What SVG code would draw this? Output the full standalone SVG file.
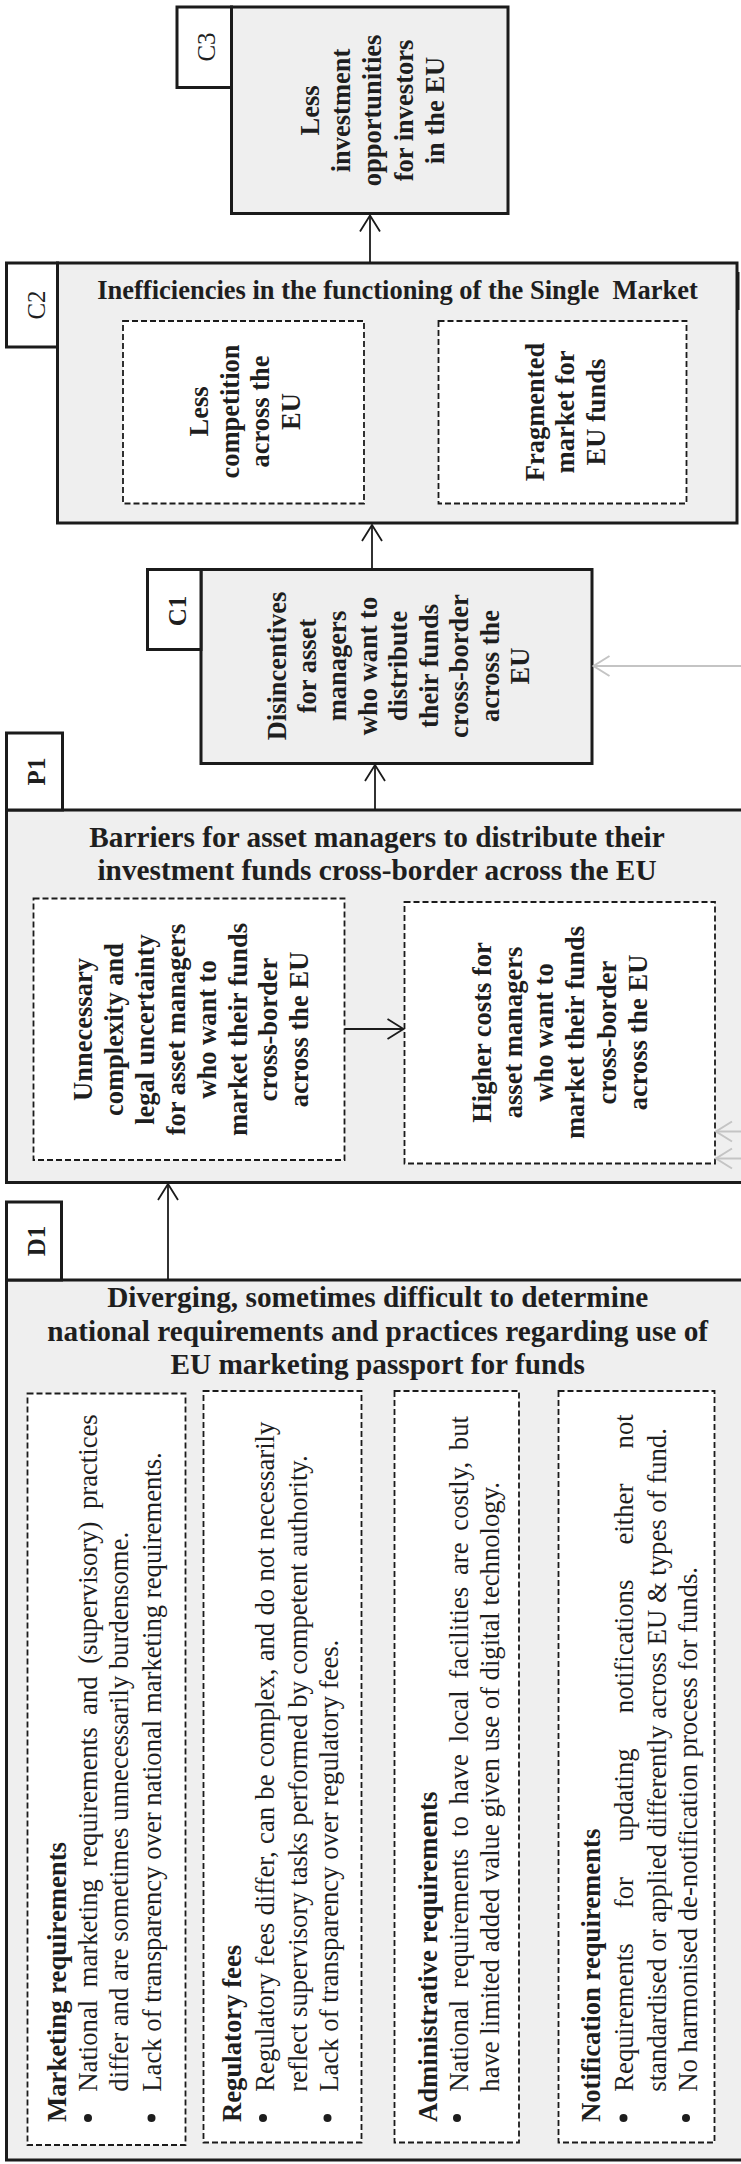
<svg xmlns="http://www.w3.org/2000/svg" width="741" height="2164" viewBox="0 0 741 2164">
<defs>
<marker id="ah" markerUnits="userSpaceOnUse" markerWidth="20" markerHeight="24" viewBox="-1 -12 19 24" refX="16" refY="0" orient="auto">
<path d="M0,-10 L16,0 L0,10" fill="none" stroke="#1b1b1b" stroke-width="1.8"/>
</marker>
<marker id="ahg" markerUnits="userSpaceOnUse" markerWidth="20" markerHeight="24" viewBox="-1 -12 19 24" refX="16" refY="0" orient="auto">
<path d="M0,-10 L16,0 L0,10" fill="none" stroke="#c4c4c4" stroke-width="2"/>
</marker>
</defs>
<style>
.main{fill:#efefef;stroke:#1b1b1b;stroke-width:3}
.lbl{fill:#fff;stroke:#1b1b1b;stroke-width:3}
.dash{fill:#fff;stroke:#1b1b1b;stroke-width:1.8;stroke-dasharray:6 3}
.b{font-family:"Liberation Serif","Times New Roman",serif;font-weight:bold;fill:#1e1e1e}
.n{font-family:"Liberation Serif","Times New Roman",serif;fill:#1e1e1e}
.f26{font-size:26.5px}
.f29{font-size:29.3px}
.bd{font-size:26.7px}
.lab{font-size:25px}
.conn{stroke:#1b1b1b;stroke-width:1.8;fill:none}
.gray{stroke:#c4c4c4;stroke-width:2;fill:none}
.dot{fill:#1e1e1e}
</style>

<g id="C3">
<rect class="main" x="231.5" y="7" width="276.5" height="206.5"/>
<rect class="lbl" x="177" y="7" width="54.5" height="80.5"/>
<text class="n lab" text-anchor="middle" transform="translate(215,47) rotate(-90)">C3</text>
<text class="b f26" text-anchor="middle" transform="translate(319,110.5) rotate(-90)"><tspan x="0" y="0">Less</tspan><tspan x="0" dy="31.2">investment</tspan><tspan x="0" dy="31.2">opportunities</tspan><tspan x="0" dy="31.2">for investors</tspan><tspan x="0" dy="31.2">in the EU</tspan></text>
</g>

<g id="C2">
<rect class="main" x="57.5" y="263" width="679.5" height="260"/>
<path d="M738,272 L738,310" stroke="#1b1b1b" stroke-width="3"/>
<rect class="lbl" x="6.5" y="263" width="51" height="84"/>
<text class="n lab" text-anchor="middle" transform="translate(45,305) rotate(-90)">C2</text>
<text class="b f26" x="397.5" y="298.5" text-anchor="middle" xml:space="preserve">Inefficiencies in the functioning of the Single  Market</text>
<rect class="dash" x="123" y="321" width="241" height="182.5"/>
<text class="b f26" text-anchor="middle" transform="translate(208,411.5) rotate(-90)"><tspan x="0" y="0">Less</tspan><tspan x="0" dy="30.7">competition</tspan><tspan x="0" dy="30.7">across the</tspan><tspan x="0" dy="30.7">EU</tspan></text>
<rect class="dash" x="438.5" y="321" width="248" height="182.5"/>
<text class="b f26" text-anchor="middle" transform="translate(543.5,412) rotate(-90)"><tspan x="0" y="0">Fragmented</tspan><tspan x="0" dy="30.7">market for</tspan><tspan x="0" dy="30.7">EU funds</tspan></text>
</g>

<g id="C1">
<rect class="main" x="201" y="569.5" width="391" height="194"/>
<rect class="lbl" x="147.5" y="569.5" width="53.5" height="80"/>
<text class="b lab" text-anchor="middle" transform="translate(186,611) rotate(-90)">C1</text>
<text class="b f26" text-anchor="middle" transform="translate(285.5,666) rotate(-90)"><tspan x="0" y="0">Disincentives</tspan><tspan x="0" dy="30.45">for asset</tspan><tspan x="0" dy="30.45">managers</tspan><tspan x="0" dy="30.45">who want to</tspan><tspan x="0" dy="30.45">distribute</tspan><tspan x="0" dy="30.45">their funds</tspan><tspan x="0" dy="30.45">cross-border</tspan><tspan x="0" dy="30.45">across the</tspan><tspan x="0" dy="30.45">EU</tspan></text>
</g>

<g id="P1">
<rect class="main" x="6.5" y="810" width="745" height="372.5"/>
<rect class="lbl" x="6.5" y="733" width="56" height="77"/>
<text class="b lab" text-anchor="middle" transform="translate(45,771.5) rotate(-90)">P1</text>
<text class="b f29" text-anchor="middle"><tspan x="377" y="847">Barriers for asset managers to distribute their</tspan><tspan x="377" y="880">investment funds cross-border across the EU</tspan></text>
<rect class="dash" x="33.5" y="898.5" width="311" height="261.5"/>
<text class="b f26" text-anchor="middle" transform="translate(92,1029.5) rotate(-90)"><tspan x="0" y="0">Unnecessary</tspan><tspan x="0" dy="30.9">complexity and</tspan><tspan x="0" dy="30.9">legal uncertainty</tspan><tspan x="0" dy="30.9">for asset managers</tspan><tspan x="0" dy="30.9">who want to</tspan><tspan x="0" dy="30.9">market their funds</tspan><tspan x="0" dy="30.9">cross-border</tspan><tspan x="0" dy="30.9">across the EU</tspan></text>
<rect class="dash" x="404.5" y="902" width="310.5" height="261.5"/>
<text class="b f26" text-anchor="middle" transform="translate(490.5,1032.5) rotate(-90)"><tspan x="0" y="0">Higher costs for</tspan><tspan x="0" dy="31.25">asset managers</tspan><tspan x="0" dy="31.25">who want to</tspan><tspan x="0" dy="31.25">market their funds</tspan><tspan x="0" dy="31.25">cross-border</tspan><tspan x="0" dy="31.25">across the EU</tspan></text>
</g>

<g id="D1">
<rect class="main" x="6.5" y="1280" width="745" height="880"/>
<rect class="lbl" x="6.5" y="1202" width="55" height="78"/>
<text class="b lab" text-anchor="middle" transform="translate(45,1241) rotate(-90)">D1</text>
<text class="b f29" text-anchor="middle"><tspan x="377.7" y="1307">Diverging, sometimes difficult to determine</tspan><tspan x="377.7" y="1340.5">national requirements and practices regarding use of</tspan><tspan x="377.7" y="1374">EU marketing passport for funds</tspan></text>

<g id="D1-marketing">
<rect class="dash" x="27.5" y="1393.5" width="158" height="751.5"/>
<text class="b bd" transform="translate(65.5,2122) rotate(-90)">Marketing requirements</text>
<circle class="dot" cx="88" cy="2118" r="4"/>
<text class="n bd" style="word-spacing:5.8px" transform="translate(97,2091.7) rotate(-90)">National marketing requirements and (supervisory) practices</text>
<text class="n bd" transform="translate(128,2091.7) rotate(-90)">differ and are sometimes unnecessarily burdensome.</text>
<circle class="dot" cx="151.5" cy="2118" r="4"/>
<text class="n bd" transform="translate(160.5,2091.7) rotate(-90)">Lack of transparency over national marketing requirements.</text>
</g>

<g id="D1-fees">
<rect class="dash" x="203.5" y="1391" width="158" height="751.5"/>
<text class="b bd" transform="translate(241,2122) rotate(-90)">Regulatory fees</text>
<circle class="dot" cx="263" cy="2118" r="4"/>
<text class="n bd" style="word-spacing:0.6px" transform="translate(274,2091.7) rotate(-90)">Regulatory fees differ, can be complex, and do not necessarily</text>
<text class="n bd" transform="translate(307,2091.7) rotate(-90)">reflect supervisory tasks performed by competent authority.</text>
<circle class="dot" cx="327.5" cy="2118" r="4"/>
<text class="n bd" transform="translate(338,2091.7) rotate(-90)">Lack of transparency over regulatory fees.</text>
</g>

<g id="D1-admin">
<rect class="dash" x="394.5" y="1391" width="124.5" height="751.5"/>
<text class="b bd" transform="translate(437,2122) rotate(-90)">Administrative requirements</text>
<circle class="dot" cx="457" cy="2118" r="4"/>
<text class="n bd" style="word-spacing:5.1px" transform="translate(468,2091.7) rotate(-90)">National requirements to have local facilities are costly, but</text>
<text class="n bd" transform="translate(498.5,2091.7) rotate(-90)">have limited added value given use of digital technology.</text>
</g>

<g id="D1-notification">
<rect class="dash" x="558.5" y="1391" width="156" height="751.5"/>
<text class="b bd" transform="translate(600,2122) rotate(-90)">Notification requirements</text>
<circle class="dot" cx="623.5" cy="2118" r="4"/>
<text class="n bd" style="word-spacing:28.6px" transform="translate(633,2091.7) rotate(-90)">Requirements for updating notifications either not</text>
<text class="n bd" transform="translate(666,2091.7) rotate(-90)">standardised or applied differently across EU &amp; types of fund.</text>
<circle class="dot" cx="686" cy="2118" r="4"/>
<text class="n bd" transform="translate(697,2091.7) rotate(-90)">No harmonised de-notification process for funds.</text>
</g>
</g>

<g id="connectors">
<path class="conn" d="M370,263 L370,215.5" marker-end="url(#ah)"/>
<path class="conn" d="M372,569.5 L372,525" marker-end="url(#ah)"/>
<path class="conn" d="M375,810 L375,765" marker-end="url(#ah)"/>
<path class="conn" d="M168,1280 L168,1184" marker-end="url(#ah)"/>
<path class="conn" d="M344.5,1029 L403.5,1029" marker-end="url(#ah)"/>
<path class="gray" d="M745,666 L593.5,666" marker-end="url(#ahg)"/>
<path class="gray" d="M745,1131.5 L716,1131.5" marker-end="url(#ahg)"/>
<path class="gray" d="M745,1158.5 L716,1158.5" marker-end="url(#ahg)"/>
</g>
</svg>
